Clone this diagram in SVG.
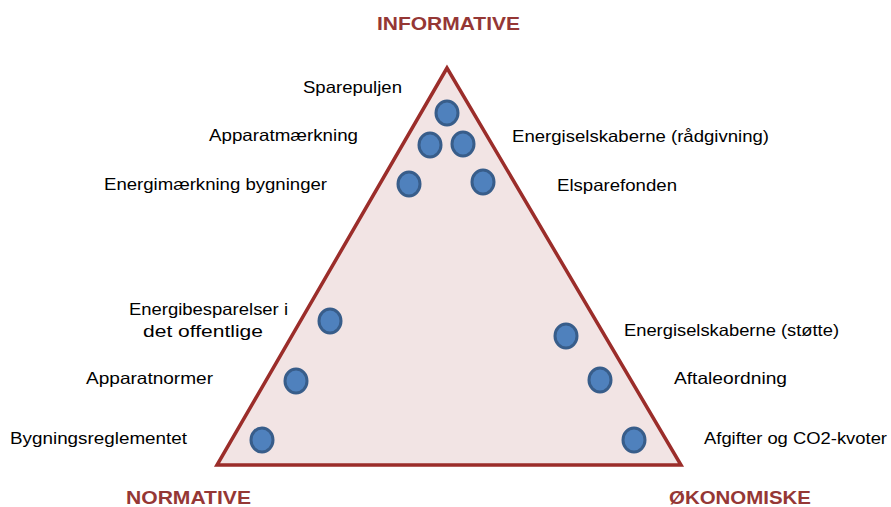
<svg xmlns="http://www.w3.org/2000/svg" width="891" height="507" viewBox="0 0 891 507">
<style>
.lbl{font-family:"Liberation Sans",Arial,sans-serif;font-size:16.5px;fill:#000}
.ttl{font-family:"Liberation Sans",Arial,sans-serif;font-size:19px;font-weight:bold;fill:#953735}
.dot{fill:#4f81bd;stroke:#385d8a;stroke-width:3}
</style>
<rect width="891" height="507" fill="#fff"/>
<g id="triangle">
<polygon points="447,68 217,465 681,465" fill="#f2e4e4" stroke="#9b2d2a" stroke-width="3.5" stroke-linejoin="miter"/>
</g>
<g id="titles">
<text class="ttl" x="377" y="30" textLength="143" lengthAdjust="spacingAndGlyphs">INFORMATIVE</text>
<text class="ttl" x="126" y="504" textLength="125" lengthAdjust="spacingAndGlyphs">NORMATIVE</text>
<text class="ttl" x="669" y="504" textLength="142" lengthAdjust="spacingAndGlyphs">ØKONOMISKE</text>
</g>
<g id="n-sparepuljen"><ellipse class="dot" cx="447" cy="113" rx="11" ry="12"/><text class="lbl" x="303" y="93" textLength="99" lengthAdjust="spacingAndGlyphs">Sparepuljen</text></g>
<g id="n-apparatmaerkning"><ellipse class="dot" cx="430" cy="145" rx="11" ry="12"/><text class="lbl" x="209" y="141" textLength="149" lengthAdjust="spacingAndGlyphs">Apparatmærkning</text></g>
<g id="n-energiselskaberne-r"><ellipse class="dot" cx="463" cy="144" rx="11" ry="12"/><text class="lbl" x="512" y="142" textLength="257" lengthAdjust="spacingAndGlyphs">Energiselskaberne (rådgivning)</text></g>
<g id="n-energimaerkning"><ellipse class="dot" cx="409" cy="184" rx="11" ry="12"/><text class="lbl" x="104" y="190" textLength="223" lengthAdjust="spacingAndGlyphs">Energimærkning bygninger</text></g>
<g id="n-elsparefonden"><ellipse class="dot" cx="483" cy="182" rx="11" ry="12"/><text class="lbl" x="557" y="191" textLength="120" lengthAdjust="spacingAndGlyphs">Elsparefonden</text></g>
<g id="n-energibesparelser"><ellipse class="dot" cx="330" cy="321" rx="11" ry="12"/><text class="lbl" x="129" y="315" textLength="159" lengthAdjust="spacingAndGlyphs">Energibesparelser i</text><text class="lbl" x="143" y="337" textLength="120" lengthAdjust="spacingAndGlyphs">det offentlige</text></g>
<g id="n-energiselskaberne-s"><ellipse class="dot" cx="566" cy="336" rx="11" ry="12"/><text class="lbl" x="624" y="336" textLength="215" lengthAdjust="spacingAndGlyphs">Energiselskaberne (støtte)</text></g>
<g id="n-apparatnormer"><ellipse class="dot" cx="296" cy="381" rx="11" ry="12"/><text class="lbl" x="86" y="384" textLength="127" lengthAdjust="spacingAndGlyphs">Apparatnormer</text></g>
<g id="n-aftaleordning"><ellipse class="dot" cx="600" cy="380" rx="11" ry="12"/><text class="lbl" x="674" y="384" textLength="113" lengthAdjust="spacingAndGlyphs">Aftaleordning</text></g>
<g id="n-bygningsreglementet"><ellipse class="dot" cx="262" cy="440" rx="11" ry="12"/><text class="lbl" x="10" y="444" textLength="177" lengthAdjust="spacingAndGlyphs">Bygningsreglementet</text></g>
<g id="n-afgifter"><ellipse class="dot" cx="634" cy="440" rx="11" ry="12"/><text class="lbl" x="704" y="444" textLength="183" lengthAdjust="spacingAndGlyphs">Afgifter og CO2-kvoter</text></g>
<g id="connectors"></g>
</svg>
